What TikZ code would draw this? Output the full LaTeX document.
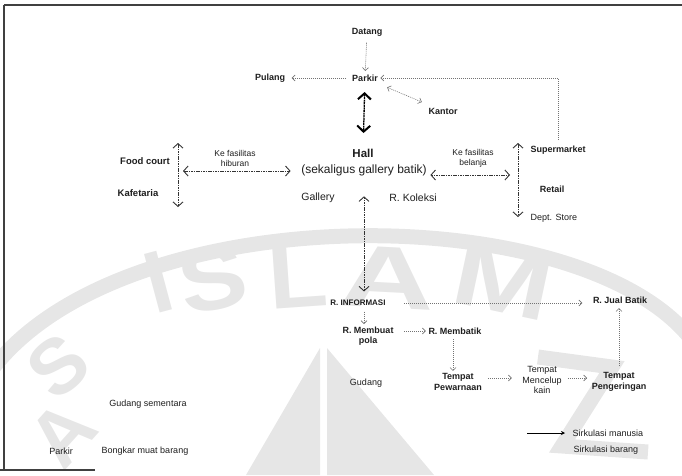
\documentclass[tikz,border=0pt]{standalone}
\usepackage{fontspec}
\setmainfont{Liberation Sans}
\usepackage{graphicx}
\usetikzlibrary{arrows.meta,calc}

\definecolor{ink}{HTML}{1E1E1E}
\definecolor{wm}{HTML}{E6E6E6}

\tikzset{
  lbl/.style={font=\fontsize{9}{10.5}\selectfont, text=ink, align=center, inner sep=0.5pt},
  blbl/.style={lbl, font=\fontsize{9}{10.5}\selectfont\bfseries},
  big/.style={lbl, font=\fontsize{12}{13}\selectfont},
  mid/.style={lbl, font=\fontsize{10.5}{12}\selectfont},
  small/.style={lbl, font=\fontsize{8.5}{10}\selectfont},
  lightflow/.style={draw=black!55, line width=0.6pt, dash pattern=on 1pt off 1pt, -{Straight Barb[length=3pt,width=6pt]}},
  lightboth/.style={lightflow, {Straight Barb[length=3pt,width=6pt]}-{Straight Barb[length=3pt,width=6pt]}},
  darkflow/.style={draw=black!80, line width=0.9pt, dash pattern=on 1.6pt off 0.8pt,
    {Straight Barb[length=4.5pt,width=10pt]}-{Straight Barb[length=4.5pt,width=10pt]}},
  mainflow/.style={draw=black, line width=1.3pt, dash pattern=on 2pt off 0.6pt,
    {Straight Barb[length=6pt,width=13pt,line width=2pt]}-{Straight Barb[length=6pt,width=13pt,line width=2pt]}},
  legendflow/.style={draw=black, line width=0.6pt, dash pattern=on 1.5pt off 0.5pt, -{Stealth[length=4pt,width=4pt]}},
  wmletter/.style={text=wm, inner sep=0pt, font=\fontsize{88}{88}\selectfont\bfseries},
  wmstroke/.style={draw=wm, line width=15pt},
  framestroke/.style={draw=black!75, line width=1.1pt}
}

\begin{document}
\begin{tikzpicture}[x=1pt,y=-1pt]
\useasboundingbox (0,0) rectangle (682,475);

% ---- watermark (logo in pale grey) ----
\begin{scope}
  \clip (0,0) rectangle (682,475);
  \draw[wmstroke] (-10,372) .. controls (120,196) and (580,196) .. (692,340);
  \node[wmletter] at (158,282) {\rotatebox{15}{I}};
  \node[wmletter] at (213,279) {\rotatebox{11}{\scalebox{1.15}[1]{S}}};
  \node[wmletter] at (298,277) {\rotatebox{4}{\scalebox{1.1}[1]{L}}};
  \node[wmletter] at (388,278) {\rotatebox{-3}{\scalebox{1.5}[1]{A}}};
  \node[wmletter] at (503,282) {\rotatebox{-12}{\scalebox{1.35}[1]{M}}};
  \node[wmletter, font=\fontsize{78}{78}\selectfont\bfseries] at (58,366) {\rotatebox{40}{S}};
  \node[wmletter, font=\fontsize{78}{78}\selectfont\bfseries] at (62,434) {\rotatebox{48}{A}};
  \fill[wm] (246,475) -- (320,348) -- (320,475) -- cycle;
  \fill[wm] (327,348) -- (434,475) -- (327,475) -- cycle;
  \draw[wmstroke, line join=miter] (538,357) -- (612,367) -- (562,446) -- (648,452);
\end{scope}

% ---- frame ----
\draw[framestroke] (4,5) -- (682,5);
\draw[framestroke] (4,5) -- (4,470);
\draw[framestroke] (0,470) -- (95,470);

% ---- nodes ----
\node[blbl] (datang) at (367,32) {Datang};
\node[blbl] (parkir) at (365,78) {Parkir};
\node[blbl] (pulang) at (270,78) {Pulang};
\node[blbl] (kantor) at (443,111) {Kantor};
\node[lbl, font=\fontsize{11.5}{13}\selectfont\bfseries] (hall) at (363,153) {Hall};
\node[big] (sekaligus) at (364,170) {(sekaligus gallery batik)};
\node[blbl, font=\fontsize{9.5}{11}\selectfont\bfseries] (food) at (145,161) {Food court};
\node[blbl, font=\fontsize{9.5}{11}\selectfont\bfseries] (kafe) at (138,193) {Kafetaria};
\node[small] (hiburan) at (235,158) {Ke fasilitas\\hiburan};
\node[mid] (gallery) at (318,198) {Gallery};
\node[mid] (koleksi) at (413,198) {R. Koleksi};
\node[small] (belanja) at (473,158) {Ke fasilitas\\belanja};
\node[blbl, anchor=west] (super) at (530,150) {Supermarket};
\node[blbl] (retail) at (552,189) {Retail};
\node[lbl, anchor=west] (dept) at (530,218) {Dept. Store};
\node[lbl, font=\fontsize{8}{10}\selectfont\bfseries] (info) at (358,303) {R. INFORMASI};
\node[blbl] (jual) at (620,300) {R. Jual Batik};
\node[blbl, anchor=north] (membuat) at (368,326) {R. Membuat\\pola};
\node[blbl] (membatik) at (455,331) {R. Membatik};
\node[lbl] (gudang) at (366,383) {Gudang};
\node[blbl] (pewarnaan) at (458,382) {Tempat\\Pewarnaan};
\node[lbl] (mencelup) at (542,380) {Tempat\\Mencelup\\kain};
\node[blbl] (pengeringan) at (619,382) {Tempat\\Pengeringan};
\node[lbl] (gudangsem) at (148,404) {Gudang sementara};
\node[lbl] (parkirb) at (61,451) {Parkir};
\node[lbl] (bongkar) at (145,451) {Bongkar muat barang};
\node[lbl, anchor=west] (sirkman) at (572,433) {Sirkulasi manusia};
\node[lbl, anchor=west] (sirkbar) at (573,450) {Sirkulasi barang};

% ---- junction points of the circulation lines ----
\coordinate (superTop) at (558,140);
\coordinate (turn) at (558,78);
\coordinate (foodTop) at (178,143);
\coordinate (foodBot) at (178,207);
\coordinate (foodMid) at (178,171);
\coordinate (shopTop) at (518,143);
\coordinate (shopBot) at (518,217);
\coordinate (shopMid) at (518,175);
\coordinate (legendStart) at (527,433);

% ---- connectors ----
\draw[lightflow, shorten <=6pt, shorten >=3pt] (datang) -- (parkir);
\draw[lightflow, shorten <=19pt, shorten >=6pt] (parkir.center) -- (pulang.east);
\draw[lightflow, shorten >=2pt] (superTop) -- (turn) -- (parkir.east);
\draw[lightboth, shorten <=24pt, shorten >=23pt] (parkir.center) -- (kantor.center);
\draw[mainflow, shorten <=14pt, shorten >=20pt] (parkir.center) -- (hall.center);

\draw[darkflow] (foodTop) -- (foodBot);
\draw[darkflow, shorten <=5pt, shorten >=10pt] (foodMid) -- (foodMid -| sekaligus.west);
\draw[darkflow] (shopTop) -- (shopBot);
\draw[darkflow, shorten <=3pt, shorten >=8pt] (shopMid -| sekaligus.east) -- (shopMid);
\draw[darkflow, shorten <=20pt, shorten >=8pt] (sekaligus.south) -- (sekaligus.south |- info.north);

\draw[lightflow, shorten <=5pt, shorten >=2pt] (info.south -| sekaligus.south) -- (sekaligus.south |- membuat.north);
\draw[lightflow, shorten <=18pt, shorten >=10pt] (info.east) -- (info.east -| jual.west);
\draw[lightflow, shorten <=10pt, shorten >=2pt] (membuat.east |- membatik.west) -- (membatik.west);
\draw[lightflow, shorten <=4pt, shorten >=2pt] (membatik.south -| 453,0) -- (pewarnaan.north -| 453,0);
\draw[lightflow, shorten <=6pt, shorten >=10pt] ($(pewarnaan.east)+(0,-4)$) -- ($(mencelup.west)+(0,-2)$);
\draw[lightflow, shorten <=6pt, shorten >=4pt] ($(mencelup.east)+(0,-2)$) -- ($(pengeringan.west)+(0,-4)$);
\draw[lightflow, shorten <=6pt, shorten >=4pt] (pengeringan.north) -- (pengeringan.north |- jual.south);

\draw[legendflow, shorten >=7pt] (legendStart) -- (sirkman.west);
\end{tikzpicture}
\end{document}
